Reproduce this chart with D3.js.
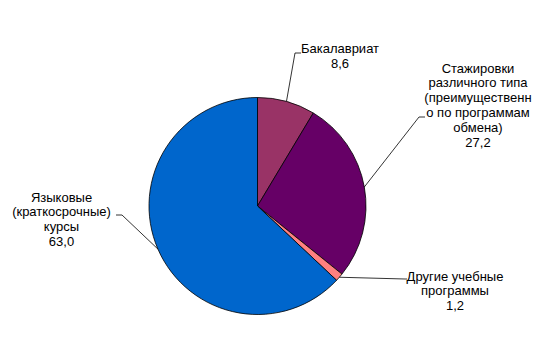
<!DOCTYPE html>
<html>
<head>
<meta charset="utf-8">
<script src="https://cdn.jsdelivr.net/npm/d3@7"></script>
<style>
  body { margin: 0; background: #fff; }
  svg { display: block; }
  text { font-family: "Liberation Sans", Arial, sans-serif; font-size: 13px; fill: #000; }
</style>
</head>
<body>
<div class="chart"></div>
<script>
"use strict";

// data
var categories = ["Бакалавриат", "Стажировки различного типа", "Другие учебные программы", "Языковые (краткосрочные) курсы"];
var values = [8.6, 27.2, 1.2, 63.0];
var valueLabels = ["8,6", "27,2", "1,2", "63,0"];
var labelLines = [
  ["Бакалавриат"],
  ["Стажировки", "различного типа", "(преимущественн", "о по программам", "обмена)"],
  ["Другие учебные", "программы"],
  ["Языковые", "(краткосрочные)", "курсы"]
];
var colors = ["#993366", "#660066", "#FF8080", "#0066CC"];

var width = 540, height = 338;
var cx = 257.5, cy = 206, radius = 108.5;

// label layout: text centre x, first baseline y, elbow, end of leader
var layout = [
  { x: 340, y: 53, elbow: [295, 53], end: [301, 53] },
  { x: 478, y: 72.5, elbow: [419, 117], end: [425, 117] },
  { x: 455, y: 280.5, elbow: [405, 279], end: [407, 279] },
  { x: 61.5, y: 201.5, elbow: [122, 215], end: [116, 215] }
];
var lineH = 14.9;

var svg = d3.select('.chart')
            .append('svg')
            .attr('width', width)
            .attr('height', height);

var pie = d3.pie().sort(null).value(function(d){ return d; });
var arcs = pie(values);
var arc = d3.arc().innerRadius(0).outerRadius(radius);

var g = svg.append('g').attr('transform', 'translate(' + cx + ',' + cy + ')');

g.selectAll('path.slice')
  .data(arcs)
  .enter().append('path')
  .attr('class', 'slice')
  .attr('d', arc)
  .attr('fill', function(d, i){ return colors[i]; })
  .attr('stroke', '#000')
  .attr('stroke-width', 0.8);

// leader lines from the middle of each slice's edge
arcs.forEach(function(d, i){
  var a = (d.startAngle + d.endAngle) / 2;
  var sx = cx + radius * Math.sin(a);
  var sy = cy - radius * Math.cos(a);
  var L = layout[i];
  svg.append('polyline')
    .attr('points', [[sx, sy], L.elbow, L.end].map(function(p){ return p.join(','); }).join(' '))
    .attr('fill', 'none')
    .attr('stroke', '#000')
    .attr('stroke-width', 0.8);

  var t = svg.append('text')
    .attr('text-anchor', 'middle')
    .attr('x', L.x)
    .attr('y', L.y);
  labelLines[i].concat([valueLabels[i]]).forEach(function(s, k){
    t.append('tspan').attr('x', L.x).attr('y', L.y + k * lineH).text(s);
  });
});
</script>
</body>
</html>
